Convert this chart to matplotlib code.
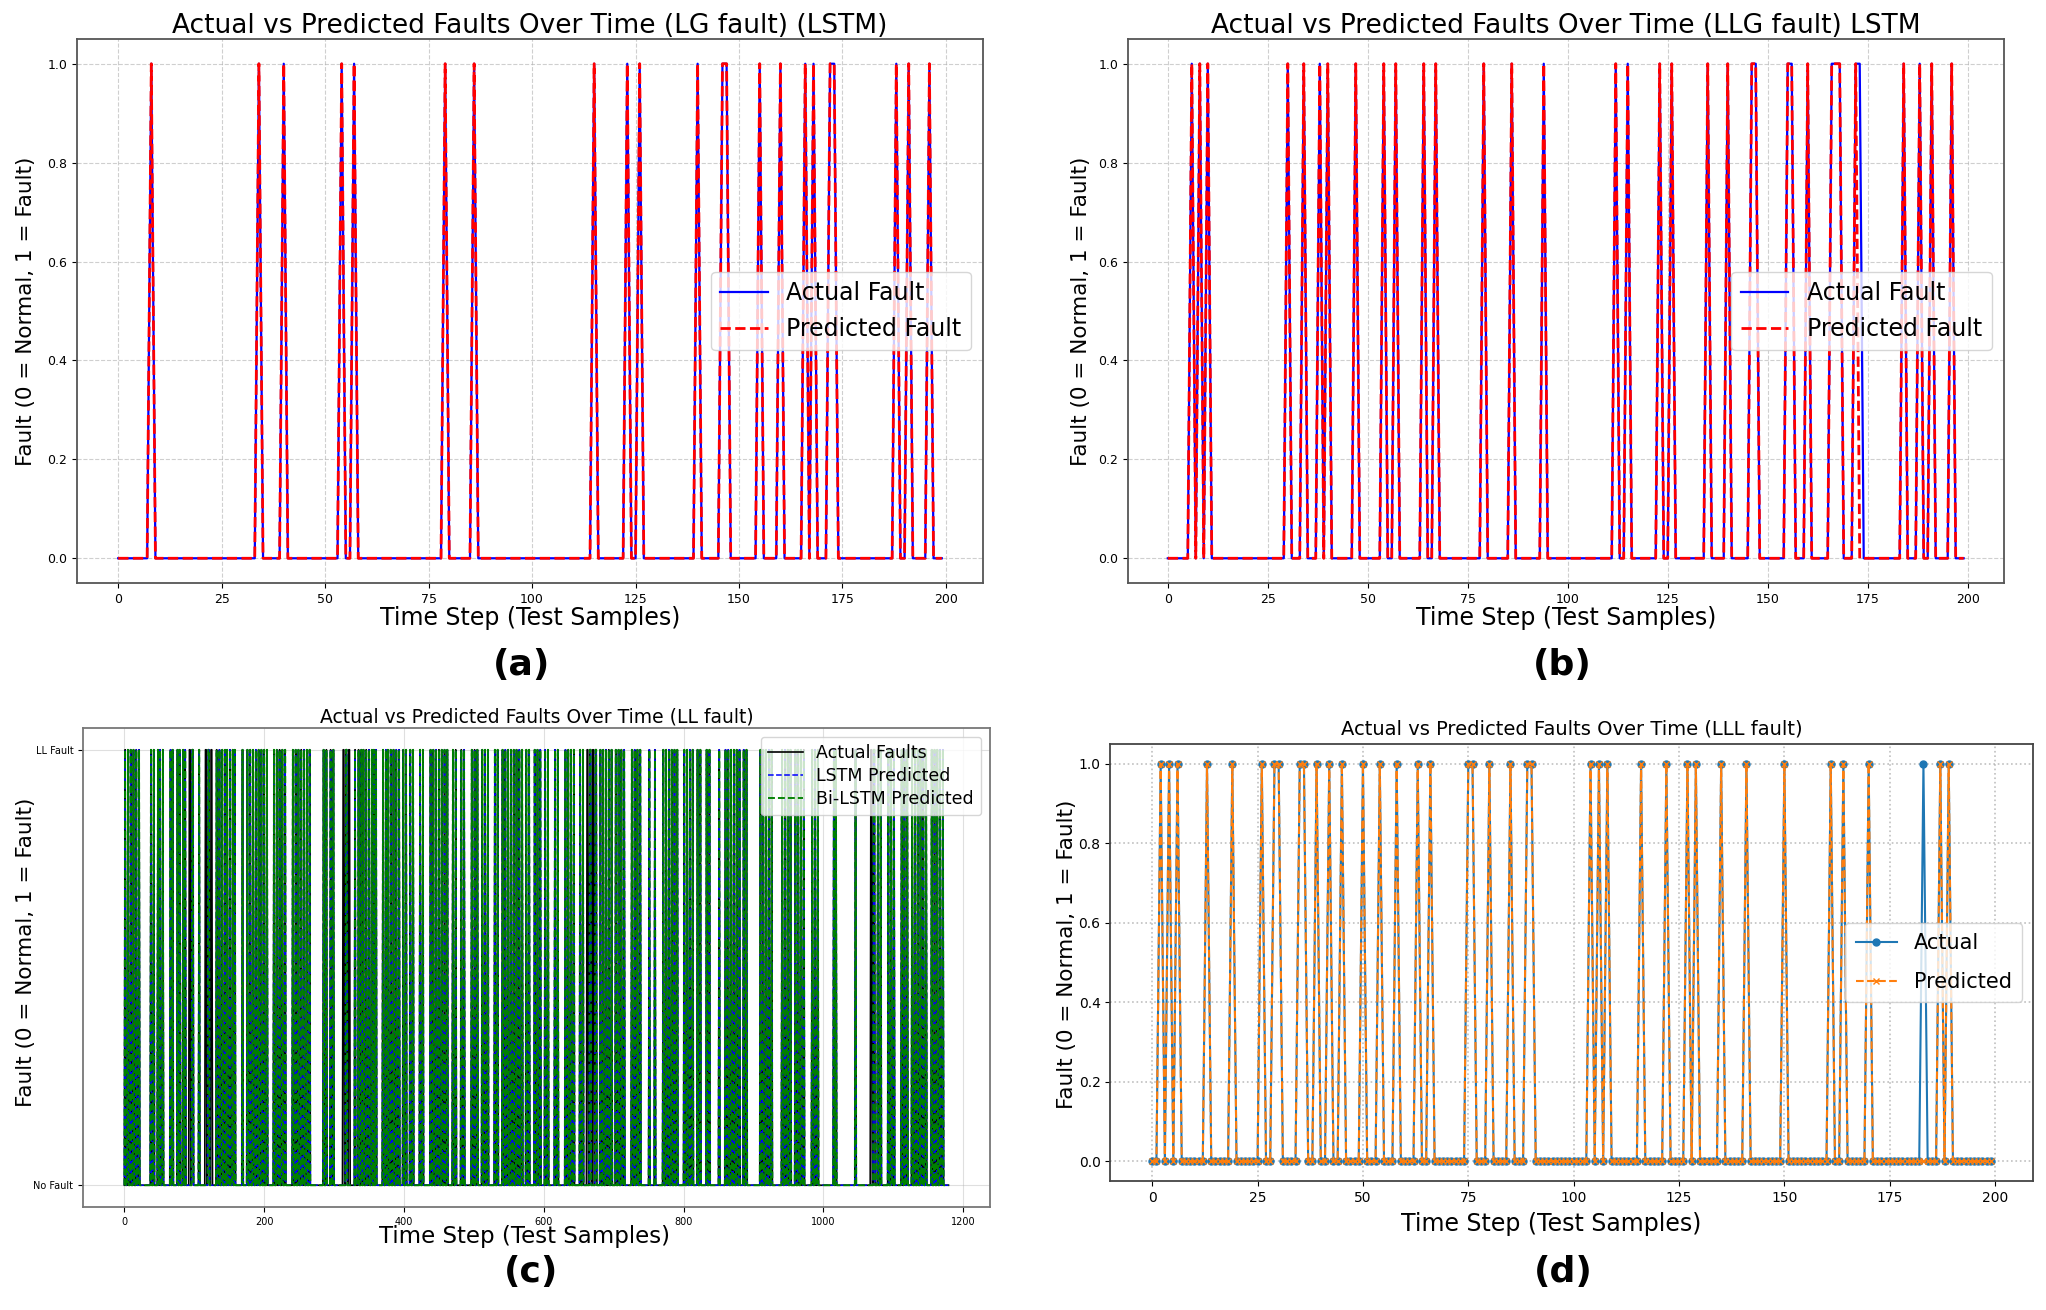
import numpy as np
import matplotlib
matplotlib.use("Agg")
import matplotlib.pyplot as plt

# ------------------------------------------------------------------ data
n_short = 200          # samples in panels (a), (b), (d)
n_ll = 1180            # samples in panel (c)

# (a) LG fault - indices where fault = 1
lg_actual_faults = [8, 34, 40, 54, 57, 79, 86, 115, 123, 126, 140, 146, 147,
                    155, 160, 166, 168, 172, 173, 188, 191, 196]
lg_predicted_faults = [8, 34, 40, 54, 57, 79, 86, 115, 123, 126, 140, 146, 147,
                       155, 160, 166, 168, 172, 173, 188, 191, 196]

# (b) LLG fault
llg_actual_faults = [6, 8, 10, 30, 34, 38, 40, 47, 54, 57, 64, 67, 79, 86, 94,
                     112, 115, 123, 126, 135, 140, 146, 147, 155, 156, 160,
                     166, 167, 168, 172, 173, 184, 188, 191, 196]
llg_predicted_faults = [6, 8, 10, 30, 34, 38, 40, 47, 54, 57, 64, 67, 79, 86, 94,
                        112, 115, 123, 126, 135, 140, 146, 147, 155, 156, 160,
                        166, 167, 168, 172, 184, 188, 191, 196]

# (d) LLL fault
lll_actual_faults = [2, 4, 6, 13, 19, 26, 29, 30, 35, 36, 39, 42, 45, 50, 54, 58,
                     63, 66, 75, 76, 80, 85, 89, 90, 104, 106, 108, 116, 122,
                     127, 129, 135, 141, 150, 161, 164, 170, 183, 187, 189]
lll_predicted_faults = [2, 4, 6, 13, 19, 26, 29, 30, 35, 36, 39, 42, 45, 50, 54, 58,
                        63, 66, 75, 76, 80, 85, 89, 90, 104, 106, 108, 116, 122,
                        127, 129, 135, 141, 150, 161, 164, 170, 187, 189]

# (c) LL fault - samples labelled "LL Fault" (estimated from the dense plot)
ll_actual_faults = [
    1, 5, 9, 13, 17, 21, 38, 42, 48, 51, 55, 66, 69, 76, 79, 84, 87, 93, 94, 97, 98,
    107, 116, 117, 120, 121, 124, 125, 132, 136, 140, 144, 147, 151, 155, 158, 169,
    176, 180, 184, 188, 192, 196, 200,
    204, 214, 218, 222, 226, 230, 241, 245, 249, 253, 257, 261, 265, 285, 289, 295, 299,
    313, 314, 317, 318, 321, 322, 330, 335, 339, 342, 346, 350, 354, 357, 360,
    370, 374, 377, 381, 385, 389, 393, 399,
    403, 409, 413, 423, 427, 438, 442, 446, 450, 454, 458, 462, 470, 474, 482, 486, 497,
    501, 505, 512, 516, 520, 530, 534, 541, 545, 549, 553, 557, 561, 565, 569, 575, 579,
    587, 591, 595,
    602, 606, 616, 620, 631, 635, 639, 643, 652, 656, 662, 663, 666, 667, 670, 671, 674,
    675, 681, 685, 689, 693, 697,
    703, 707, 711, 715, 726, 730, 734, 738, 751, 759, 771, 775, 779, 783, 787, 791,
    801, 805, 809, 813, 820, 824, 833, 837, 851, 860, 864, 868, 872, 876, 880, 886, 890,
    910, 914, 918, 922, 926, 941, 945, 949, 953, 960, 964, 968, 972, 984, 988, 992,
    1015, 1018, 1046, 1068, 1069, 1072, 1073, 1078, 1082, 1093, 1097,
    1101, 1112, 1116, 1120, 1127, 1131, 1135, 1139, 1143, 1147, 1155, 1159, 1163,
    1167, 1171,
]
# faults that the models labelled "No Fault"
ll_lstm_missed = [93, 94, 116, 117, 124, 125, 313, 314, 321, 322,
                  662, 663, 670, 671, 1068, 1069]
ll_bilstm_missed = [93, 94, 116, 117, 124, 125, 313, 314, 321, 322,
                    662, 663, 670, 671, 1068, 1069]

ll_ytick_labels = ["No Fault", "LL Fault"]


# ------------------------------------------------------------------ helpers
def series(n, idx, missed=()):
    s = np.zeros(n)
    s[np.asarray(idx, dtype=int)] = 1
    if len(missed):
        s[np.asarray(missed, dtype=int)] = 0
    return s


W, H = 2046, 1310
fig = plt.figure(figsize=(W / 100, H / 100), dpi=100)


def px_axes(l, r, t, b):
    return fig.add_axes([l / W, 1 - b / H, (r - l) / W, (b - t) / H])


def style_frame(ax, color="#555555", lw=1.3):
    for s in ax.spines.values():
        s.set_color(color)
        s.set_linewidth(lw)


def place_labels(ax, xl, yl, xpos, ypos, fs_x=17, fs_y=15.5):
    ax.set_xlabel(xl, fontsize=fs_x, va="center", ha="center")
    ax.set_ylabel(yl, fontsize=fs_y, va="center", ha="center", rotation_mode="default")
    ax.xaxis.set_label_coords(*xpos)
    ax.yaxis.set_label_coords(*ypos)


t200 = np.arange(n_short)
XL = "Time Step (Test Samples)"
YL = "Fault (0 = Normal, 1 = Fault)"

# ------------------------------------------------------------------ (a)
axa = px_axes(77, 983, 39, 583)
axa.plot(t200, series(n_short, lg_actual_faults), color="blue", lw=1.6, label="Actual Fault")
axa.plot(t200, series(n_short, lg_predicted_faults), color="red", lw=2.0, ls="--", label="Predicted Fault")
axa.set_xticks(np.arange(0, 201, 25))
axa.set_yticks(np.arange(0, 1.01, 0.2))
axa.tick_params(labelsize=9)
axa.grid(True, ls="--", alpha=0.6)
axa.set_title("Actual vs Predicted Faults Over Time (LG fault) (LSTM)", fontsize=19, pad=4)
place_labels(axa, XL, YL, (0.5, -0.064), (-0.056, 0.5))
axa.legend(loc="center right", fontsize=17)
style_frame(axa)

# ------------------------------------------------------------------ (b)
axb = px_axes(1128, 2003.5, 39, 583)
axb.plot(t200, series(n_short, llg_actual_faults), color="blue", lw=1.6, label="Actual Fault")
axb.plot(t200, series(n_short, llg_predicted_faults), color="red", lw=2.0, ls="--", label="Predicted Fault")
axb.set_xticks(np.arange(0, 201, 25))
axb.set_yticks(np.arange(0, 1.01, 0.2))
axb.tick_params(labelsize=9)
axb.grid(True, ls="--", alpha=0.6)
axb.set_title("Actual vs Predicted Faults Over Time (LLG fault) LSTM", fontsize=19, pad=4)
place_labels(axb, XL, YL, (0.5, -0.064), (-0.054, 0.5))
axb.legend(loc="center right", fontsize=17)
style_frame(axb)

# ------------------------------------------------------------------ (c)
axc = px_axes(83.2, 989.7, 728, 1207)
tll = np.arange(n_ll)
axc.plot(tll, series(n_ll, ll_actual_faults), color="black", lw=1.2, label="Actual Faults")
axc.plot(tll, series(n_ll, ll_actual_faults, ll_lstm_missed), color="blue", lw=1.1,
         ls="--", label="LSTM Predicted")
axc.plot(tll, series(n_ll, ll_actual_faults, ll_bilstm_missed), color="green", lw=1.35,
         ls="--", label="Bi-LSTM Predicted")
axc.set_xticks(np.arange(0, 1201, 200))
axc.set_yticks([0, 1])
axc.set_yticklabels(ll_ytick_labels)
axc.tick_params(labelsize=7)
axc.grid(True, alpha=0.4)
axc.set_title("Actual vs Predicted Faults Over Time (LL fault)", fontsize=13.5, pad=4)
place_labels(axc, XL, YL, (0.487, -0.062), (-0.063, 0.531), fs_x=16.5)
axc.legend(loc="upper right", fontsize=12.5, labelspacing=0.3)
style_frame(axc, "#777777")

# ------------------------------------------------------------------ (d)
axd = px_axes(1110.3, 2032.8, 744, 1181)
axd.plot(t200, series(n_short, lll_actual_faults), color="#1f77b4", lw=1.5,
         marker="o", ms=5, label="Actual")
axd.plot(t200, series(n_short, lll_predicted_faults), color="#ff7f0e", lw=1.5,
         ls="--", marker="x", ms=5, label="Predicted")
axd.set_xticks(np.arange(0, 201, 25))
axd.set_yticks(np.arange(0, 1.01, 0.2))
axd.tick_params(labelsize=10)
axd.grid(True, ls=":", lw=1.2, alpha=0.8)
axd.set_title("Actual vs Predicted Faults Over Time (LLL fault)", fontsize=14, pad=7)
place_labels(axd, XL, YL, (0.478, -0.098), (-0.047, 0.519))
axd.legend(loc="center right", fontsize=15, labelspacing=0.9, borderpad=0.5)
style_frame(axd, "#444444")

# ------------------------------------------------------------------ panel letters
for x, y, s in [(522, 665.5, "(a)"), (1562, 665.5, "(b)"),
                (531, 1272, "(c)"), (1563, 1272, "(d)")]:
    fig.text(x / W, 1 - y / H, s, fontsize=26, fontweight="bold", ha="center", va="center")

fig.savefig("out.png", dpi=100)
